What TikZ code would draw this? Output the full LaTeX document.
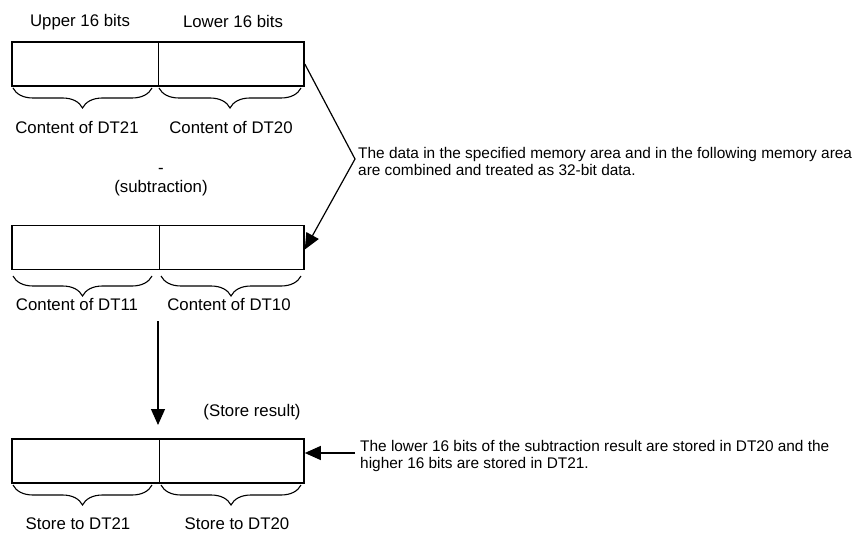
\documentclass[tikz,border=0pt]{standalone}
\usepackage{fontspec}
\setmainfont{Liberation Sans}
\usetikzlibrary{arrows.meta,decorations.pathreplacing}

\begin{document}
\begin{tikzpicture}[x=1pt,y=-1pt,
		registro/.style={draw,line width=1.6pt,minimum width=292pt,minimum height=44pt,inner sep=0pt},
		llave/.style={decorate,decoration={brace,mirror,amplitude=20pt},line width=1.1pt},
		etiqueta/.style={font=\fontsize{16.8}{19}\selectfont,inner sep=0pt},
		nota/.style={font=\fontsize{15.4}{17}\selectfont,align=left,anchor=west,inner sep=0pt},
		flecha/.style={line width=1.2pt,-{Triangle[length=16pt,width=14pt]}}]
		
		% Marco del dibujo
		\useasboundingbox (0,0) rectangle (858,534);
		
		% Registros de 32 bits (cajas)
		\node[registro] (dt20) at (158,64) {};
		\node[registro] (dt10) at (158,247.5) {};
		\node[registro] (res) at (158,461) {};
		
		% Separación entre la parte alta y la parte baja
		\draw[line width=0.8pt] (dt20.north) -- (dt20.south);
		\draw[line width=0.8pt] ([xshift=1pt]dt10.north) -- ([xshift=1pt]dt10.south);
		\draw[line width=0.8pt] ([xshift=1pt,yshift=-1pt]res.north) -- ([xshift=1pt]res.south);
		
		% Etiquetas de la primera caja
		\node[etiqueta] (alto) at (80,22) {Upper 16 bits};
		\node[etiqueta] (bajo) at (233,22) {Lower 16 bits};
		
		% Llaves bajo cada caja
		\draw[llave] (13,88) -- (152,88);
		\draw[llave] (159,88) -- (301,88);
		\draw[llave] (13,276) -- (152,276);
		\draw[llave] (161,276) -- (301,276);
		\draw[llave] (13,485) -- (152,485);
		\draw[llave] (161,485) -- (301,485);
		
		% Textos bajo las llaves
		\node[etiqueta] (c21) at (77,128) {Content of DT21};
		\node[etiqueta] (c20) at (231,128) {Content of DT20};
		\node[etiqueta] (c11) at (77,305) {Content of DT11};
		\node[etiqueta] (c10) at (229,305) {Content of DT10};
		\node[etiqueta] (s21) at (78,524) {Store to DT21};
		\node[etiqueta] (s20) at (237,524) {Store to DT20};
		
		% Operación
		\node[etiqueta] (menos) at (161,171) {-};
		\node[etiqueta] (resta) at (161,188) {(subtraction)};
		\node[etiqueta] (guardar) at (252,412) {(Store result)};
		
		% Línea quebrada con la nota de 32 bits
		\coordinate (codo) at (355,159);
		\draw[flecha] (dt20.east) -- (codo) -- ([yshift=-2pt]dt10.east);
		\node[nota] (nota1) at (358,161) {The data in the specified memory area and in the following memory area\\are combined and treated as 32-bit data.};
		
		% Flecha hacia el resultado
		\coordinate (baja) at (158,321);
		\coordinate (llega) at (158,425);
		\draw[flecha] (baja) -- (llega);
		
		% Nota del resultado
		\coordinate (n2) at (355,453);
		\draw[flecha] (n2) -- (res.east |- n2);
		\node[nota] (nota2) at (360,456.5) {The lower 16 bits of the subtraction result are stored in DT20 and the\\higher 16 bits are stored in DT21.};
		
	\end{tikzpicture}
\end{document}
